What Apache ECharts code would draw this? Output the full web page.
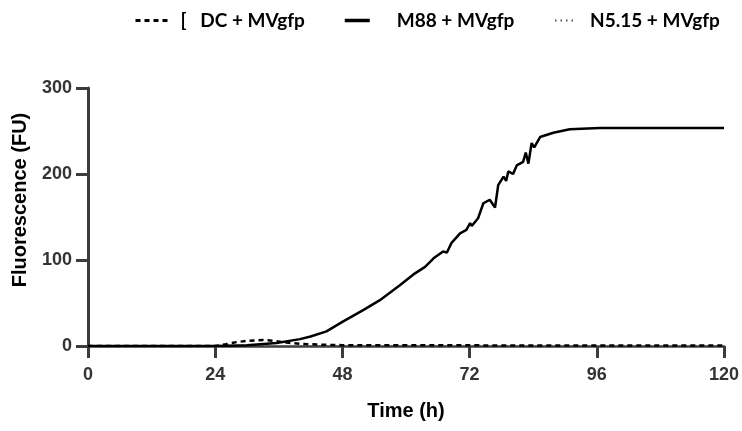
<!DOCTYPE html>
<html>
<head>
<meta charset="utf-8">
<script src="https://cdn.jsdelivr.net/npm/echarts@6/dist/echarts.min.js"></script>
<style>
html,body{margin:0;padding:0;background:#fff;}
#chart{width:742px;height:431px;}
</style>
</head>
<body>
<div id="chart"></div>
<script>
// Tick labels
var xTicks = [0, 24, 48, 72, 96, 120];
var yTicks = [0, 100, 200, 300];

// Series names
var seriesNames = ['DC + MVgfp', 'M88 + MVgfp', 'N5.15 + MVgfp'];

// M88 + MVgfp
var m88Time = [0, 24, 30, 35.6, 40, 42, 45, 48, 52, 55, 58.9, 61.7, 63.6, 65.2, 67, 67.7, 68.6, 70.2, 71.4, 72.1, 72.4, 73.6, 74.6, 75.8, 76.8, 77.4, 78.4, 78.9, 79.3, 80.2, 80.9, 82.1, 82.6, 83.1, 83.7, 84.2, 85.3, 87.8, 90.9, 96.6, 120];
var m88Value = [0, 0, 1, 3.5, 8, 11, 17, 28, 42, 53, 71, 84.5, 92, 102, 110, 108.5, 120, 131, 135, 143, 139.5, 148.5, 166, 170, 161, 187, 197, 192, 203, 200, 210, 214, 225, 212, 236, 231, 243, 248, 252, 253.5, 253.5];

// DC + MVgfp
var dcTime = [0, 24, 26, 28, 30, 33, 35, 37.5, 40, 44, 48, 60, 72, 76, 96, 120];
var dcValue = [0, 0, 2, 4.5, 6, 7, 6, 4, 2.5, 1.5, 1, 1, 1, 0.5, 0.5, 0.5];

// N5.15 + MVgfp
var n515Time = [0, 24, 48, 72, 96, 120];
var n515Value = [0, 0, 0, 0, 0, 0];

function pairs(t, v) { return t.map(function (x, i) { return [x, v[i]]; }); }

var chart = echarts.init(document.getElementById('chart'), null, {renderer: 'canvas'});
var legendText = {fontFamily: 'Lato', fontWeight: 'bold', fontSize: 19, color: '#000'};
var legendBase = {top: 11, padding: 0, itemHeight: 14, itemStyle: {opacity: 0}};
chart.setOption({
  animation: false,
  backgroundColor: '#fff',
  legend: [
    Object.assign({data: [seriesNames[0]], left: 134, itemWidth: 33, lineStyle: {width: 3},
     formatter: '[   {name}', textStyle: Object.assign({padding: [0, 0, 0, 7]}, legendText)}, legendBase),
    Object.assign({data: [seriesNames[1]], left: 343, itemWidth: 25, lineStyle: {width: 3.5},
     textStyle: Object.assign({padding: [0, 0, 0, 22]}, legendText)}, legendBase),
    Object.assign({data: [seriesNames[2]], left: 554, itemWidth: 21, lineStyle: {width: 2},
     textStyle: Object.assign({padding: [0, 0, 0, 9]}, legendText)}, legendBase)
  ],
  grid: {left: 88, right: 18, top: 88, bottom: 85},
  xAxis: {
    type: 'value', min: xTicks[0], max: xTicks[xTicks.length - 1], interval: 24,
    name: 'Time (h)', nameLocation: 'middle', nameGap: 55,
    nameTextStyle: {fontFamily: 'Liberation Sans', fontWeight: 'bold', fontSize: 20, color: '#000'},
    axisLine: {show: true, onZero: false, lineStyle: {color: '#3c3c3c', width: 2.5}},
    axisTick: {show: true, length: 12, lineStyle: {color: '#3c3c3c', width: 3}},
    axisLabel: {margin: 20, fontFamily: 'Liberation Sans', fontWeight: 'bold', fontSize: 18, color: '#333'},
    splitLine: {show: false}
  },
  yAxis: {
    type: 'value', min: yTicks[0], max: yTicks[yTicks.length - 1], interval: 100,
    name: 'Fluorescence (FU)', nameLocation: 'middle', nameGap: 58, nameRotate: 90,
    nameTextStyle: {fontFamily: 'Liberation Sans', fontWeight: 'bold', fontSize: 20, color: '#000', padding: [0, 0, 0, 34]},
    axisLine: {show: true, lineStyle: {color: '#3c3c3c', width: 3}},
    axisTick: {show: true, length: 12, lineStyle: {color: '#3c3c3c', width: 3}},
    axisLabel: {margin: 16, fontFamily: 'Liberation Sans', fontWeight: 'bold', fontSize: 18, color: '#333'},
    splitLine: {show: false}
  },
  series: [
    {name: seriesNames[0], type: 'line', data: pairs(dcTime, dcValue), symbol: 'none',
     lineStyle: {color: '#000', width: 2.5, type: [5, 4]}, itemStyle: {color: '#000'}, z: 3},
    {name: seriesNames[1], type: 'line', data: pairs(m88Time, m88Value), symbol: 'none',
     lineStyle: {color: '#000', width: 2.5}, itemStyle: {color: '#000'}, z: 4},
    {name: seriesNames[2], type: 'line', data: pairs(n515Time, n515Value), symbol: 'none',
     lineStyle: {color: '#555', width: 1.5, type: [1.5, 4]}, itemStyle: {color: '#555'}, z: 2}
  ]
});
</script>
</body>
</html>
